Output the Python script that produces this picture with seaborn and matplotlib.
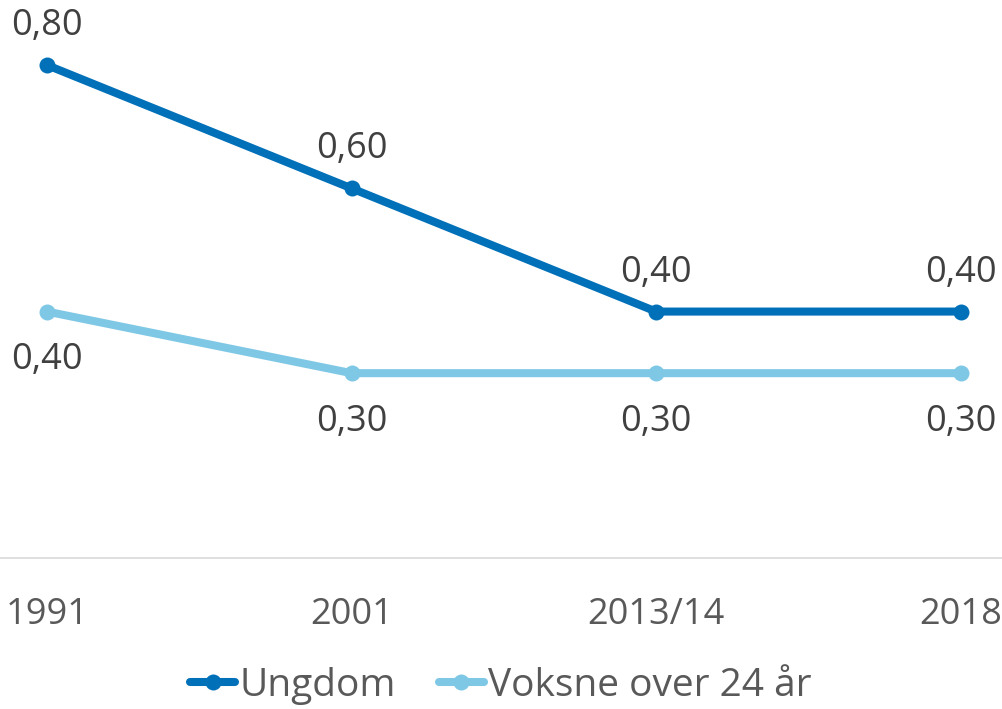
import pandas as pd
import numpy as np
import seaborn as sns
import matplotlib.pyplot as plt

years = ['1991', '2001', '2013/14', '2018']
ungdom = [0.80, 0.60, 0.40, 0.40]
voksne = [0.40, 0.30, 0.30, 0.30]
series_names = ['Ungdom', 'Voksne over 24 år']
colors = ['#0070b8', '#7ec8e6']

sns.set_style('white')
plt.rcParams['font.family'] = ['Open Sans', 'DejaVu Sans']

df = pd.DataFrame({'year': years * 2,
                   'value': ungdom + voksne,
                   'serie': [series_names[0]] * 4 + [series_names[1]] * 4})

fig = plt.figure(figsize=(10.02, 7.09), dpi=100)
ax = fig.add_axes([0, 0.213, 1, 0.782])

for name, col in zip(series_names, colors):
    sub = df[df['serie'] == name]
    sns.lineplot(data=sub, x='year', y='value', ax=ax, color=col, linewidth=5.8,
                 marker='o', markersize=11.5, markeredgewidth=0, label=name,
                 sort=False, legend=False)

# data labels: dark above, light below
for i, v in enumerate(ungdom):
    ax.annotate(f'{v:.2f}'.replace('.', ','), (i, v), xytext=(0, 28),
                textcoords='offset points', ha='center', va='center',
                fontsize=26, color='#404040')
for i, v in enumerate(voksne):
    ax.annotate(f'{v:.2f}'.replace('.', ','), (i, v), xytext=(0, -35),
                textcoords='offset points', ha='center', va='center',
                fontsize=26, color='#404040')

ax.set_xlim(-0.1544, 3.136)
ax.set_ylim(0, 0.9)
ax.set_yticks([])
ax.set_xlabel('')
ax.set_ylabel('')
ax.set_xticks(range(len(years)))
ax.set_xticklabels(years)
ax.tick_params(axis='x', length=0, pad=28, labelsize=26, labelcolor='#595959')
for s in ['top', 'left', 'right']:
    ax.spines[s].set_visible(False)
ax.spines['bottom'].set_color('#d9d9d9')
ax.spines['bottom'].set_linewidth(1.2)

handles = ax.get_lines()[:2]
leg = fig.legend(handles, series_names, loc='center', bbox_to_anchor=(0.5, 0.033),
                 ncol=2, frameon=False, fontsize=28, handlelength=1.15,
                 handletextpad=0.12, columnspacing=1.1, labelcolor='#595959')

fig.savefig('out.png', dpi=100)
